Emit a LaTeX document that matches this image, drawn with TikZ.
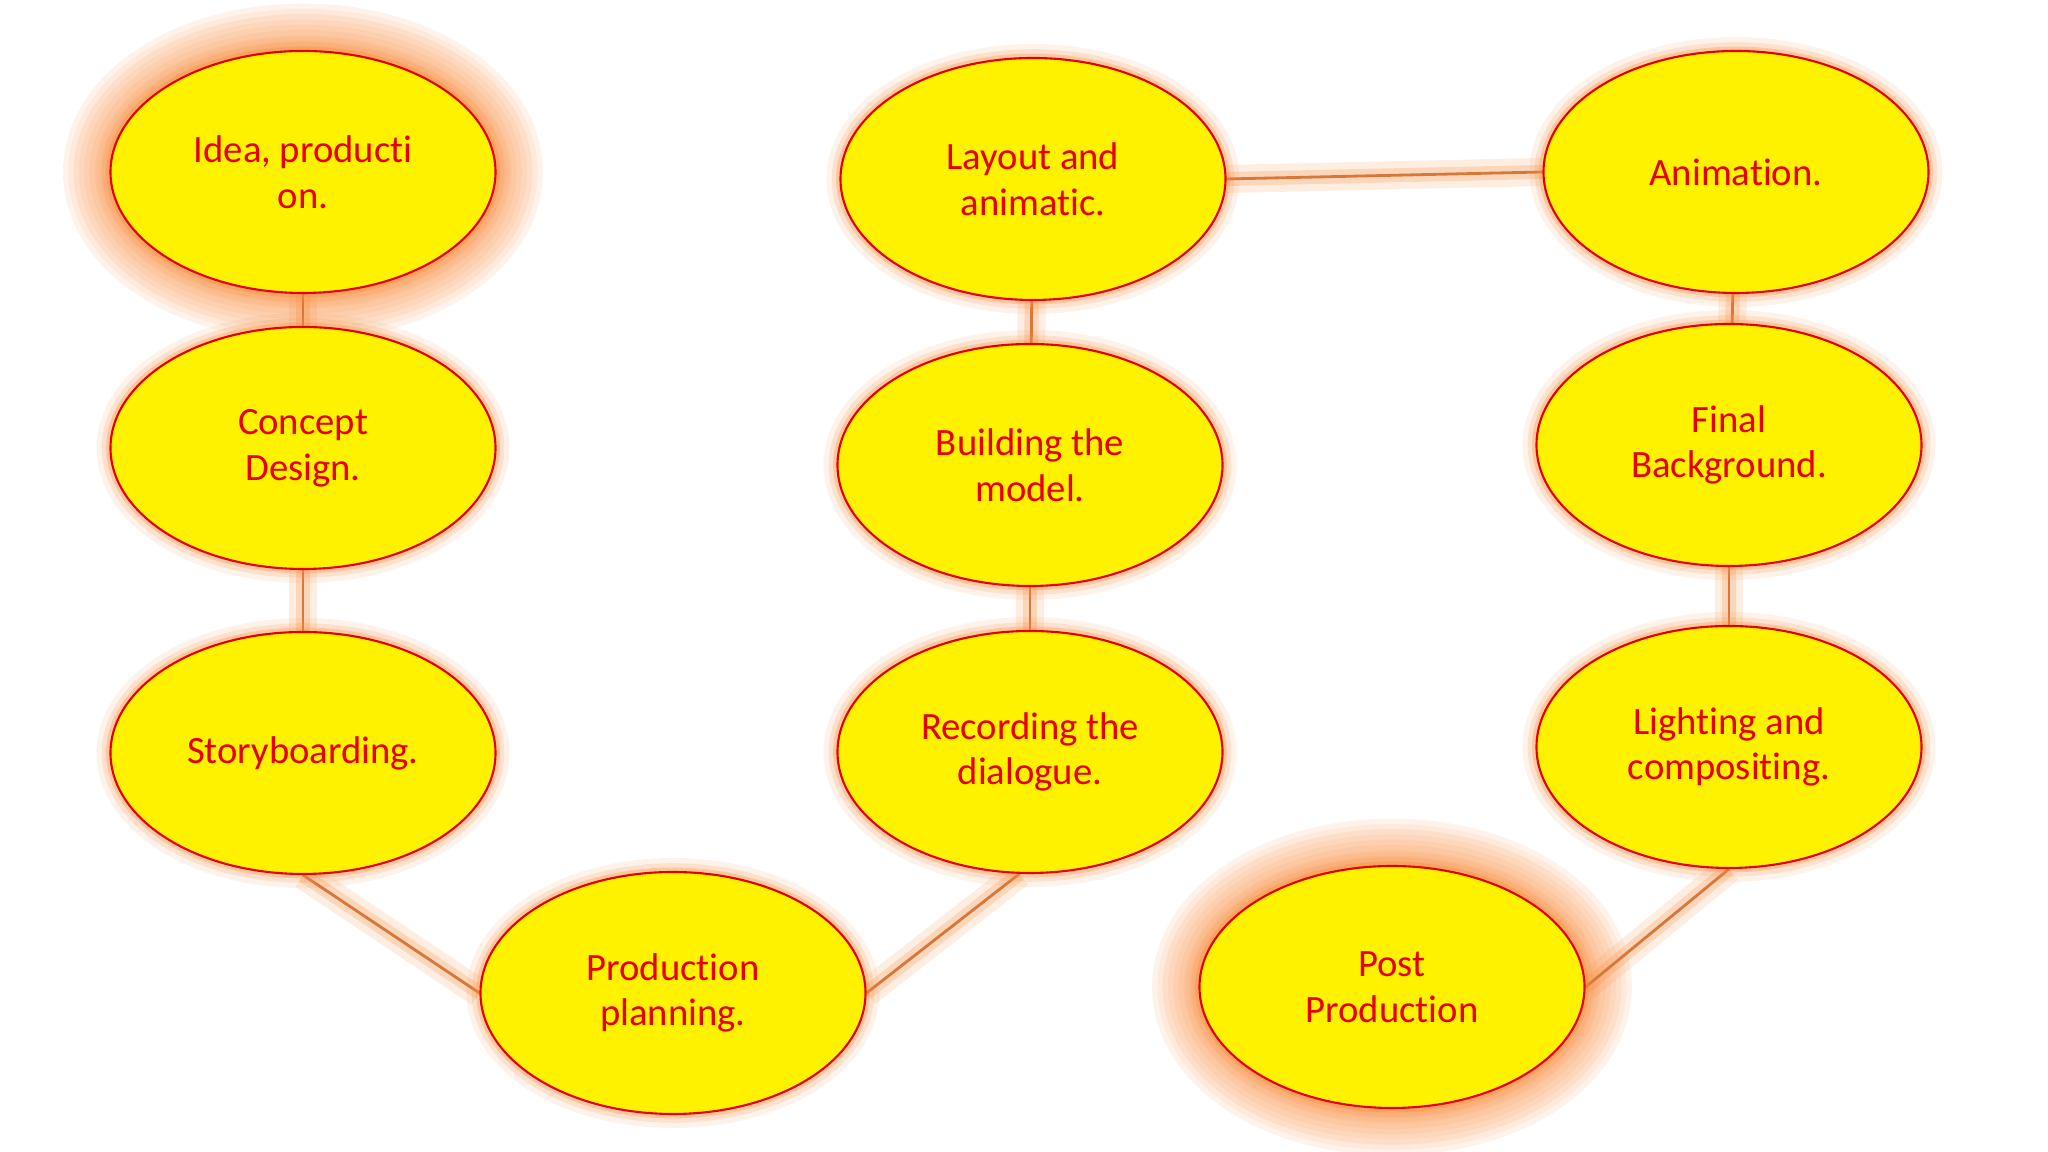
\documentclass[tikz,border=0pt]{standalone}
\usepackage{fontspec}
\setmainfont{Carlito}[Ligatures=NoCommon]
\usepackage{tikz}
\usetikzlibrary{shapes.geometric,backgrounds}
\definecolor{stagered}{RGB}{230,0,0}
\definecolor{glowor}{RGB}{248,140,60}
\definecolor{linkor}{RGB}{214,120,60}
\tikzset{stage/.style={ellipse, draw=stagered, line width=0.6pt, fill=yellow, text=stagered,
  minimum width=3.85cm, minimum height=2.42cm, inner sep=0pt, align=center,
  font=\fontsize{11}{13}\selectfont,
  preaction={draw=glowor, line width=8pt, opacity=0.1},
  preaction={draw=glowor, line width=5pt, opacity=0.18},
  preaction={draw=glowor, line width=2.5pt, opacity=0.3}}}
\tikzset{halo/.style={draw=glowor, opacity=0.1, line width=#1}}
\tikzset{link/.style={draw=linkor, line width=0.8pt,
  preaction={draw=glowor, line width=8pt, opacity=0.15},
  preaction={draw=glowor, line width=4pt, opacity=0.25}}}

\begin{document}
\begin{tikzpicture}
  \useasboundingbox (0,0) rectangle (20.48,11.52);
  \node (idea) at (3.03,9.80)[stage]{Idea, producti\\on.};
  \node (concept) at (3.03,7.04)[stage]{Concept\\Design.};
  \node (story) at (3.03,3.99)[stage]{Storyboarding.};
  \node (plan) at (6.73,1.59)[stage]{Production\\planning.};
  \node (record) at (10.30,4.00)[stage]{Recording the\\dialogue.};
  \node (model) at (10.30,6.87)[stage]{Building the\\model.};
  \node (layout) at (10.33,9.73)[stage]{Layout and\\animatic.};
  \node (anim) at (17.36,9.80)[stage]{Animation.};
  \node (backg) at (17.29,7.07)[stage]{Final\\Background.};
  \node (light) at (17.29,4.05)[stage]{Lighting and\\compositing.};
  \node (post) at (13.92,1.65)[stage]{Post\\Production};

  \begin{scope}[on background layer]
  % soft glow round the first and the last stage
  \foreach \n in {idea,post}
    \foreach \w in {3,6,...,27}
      \draw [halo=\w pt](\n.center) ellipse [x radius=1.925, y radius=1.21];
  \draw [link](idea) -- (concept);
  \draw [link](concept) -- (story);
  \draw [link](story.south) -- (plan.west);
  \draw [link](plan.east) -- (record.-95);
  \draw [link](record) -- (model);
  \draw [link](model) -- (layout);
  \draw [link](layout.east) -- (anim.west);
  \draw [link](anim) -- (backg);
  \draw [link](backg) -- (light);
  \draw [link](light.south) -- (post.east);
  \end{scope}
\end{tikzpicture}
\end{document}
